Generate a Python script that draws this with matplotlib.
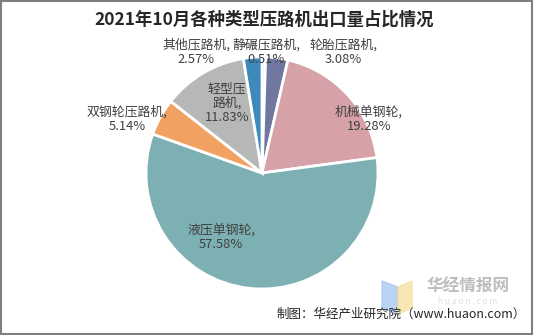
import matplotlib
matplotlib.use("Agg")
import matplotlib.pyplot as plt
from matplotlib.patches import Rectangle, Polygon

plt.rcParams['font.family'] = ['Noto Sans CJK SC', 'DejaVu Sans']

# Export share by roller type, Oct 2021 (%), clockwise from 12 o'clock
types = ["静碾压路机", "轮胎压路机", "机械单钢轮", "液压单钢轮",
         "双钢轮压路机", "轻型压路机", "其他压路机"]
shares = [0.51, 3.08, 19.28, 57.58, 5.14, 11.83, 2.57]
colors = ["#dce8f3", "#7078a2", "#d6a2a7", "#7cb0b2",
          "#f1a262", "#b5b8b7", "#3d89b9"]

# label anchor points in pixels (x, y from top)
label_pos = [(266, 52), (343, 52), (369, 119), (221, 237),
             (127, 119), (227, 103), (196, 52)]

W, H = 534, 335
fig = plt.figure(figsize=(W / 100, H / 100), dpi=100)
ax = fig.add_axes([0, 0, 1, 1])
ax.set_xlim(0, W)
ax.set_ylim(0, H)
ax.set_aspect("equal")
ax.axis("off")

ax.pie(shares, colors=colors, startangle=90, counterclock=False,
       center=(262, H - 173), radius=116,
       wedgeprops=dict(edgecolor="white", linewidth=2))
ax.set_xlim(0, W)
ax.set_ylim(0, H)

for name, val, (x, y) in zip(types, shares, label_pos):
    if name == "轻型压路机":
        txt = f"轻型压\n路机,\n{val:.2f}%"
    else:
        txt = f"{name},\n{val:.2f}%"
    ax.text(x, H - y, txt, ha="center", va="center", fontsize=9.3,
            color="#404040", linespacing=1.1)

ax.text(264, H - 20, "2021年10月各种类型压路机出口量占比情况",
        ha="center", va="center", fontsize=12.5, fontweight="bold",
        color="#262626")

# watermark logo
ax.add_patch(Polygon([(382, H - 281), (398, H - 287), (398, H - 314), (382, H - 308)],
                     closed=True, color="#a9c8f2", alpha=0.8))
ax.add_patch(Polygon([(398, H - 287), (412, H - 281), (412, H - 308), (398, H - 314)],
                     closed=True, color="#f5e3a0", alpha=0.8))
ax.text(468, H - 287, "华经情报网", ha="center", va="center", fontsize=12,
        fontweight="bold", color="#bdbdbd")
ax.text(468, H - 301, "h u a o n . c o m", ha="center", va="center",
        fontsize=6, color="#e0e0e0")

ax.text(526, H - 314, "制图：华经产业研究院（www.huaon.com）", ha="right",
        va="center", fontsize=9, color="#262626")

fig.add_artist(Rectangle((0.002, 0.003), 0.995, 0.994, transform=fig.transFigure,
                         fill=False, edgecolor="#7f7f7f", linewidth=1.5))

fig.savefig("out.png", dpi=100, facecolor="white")
